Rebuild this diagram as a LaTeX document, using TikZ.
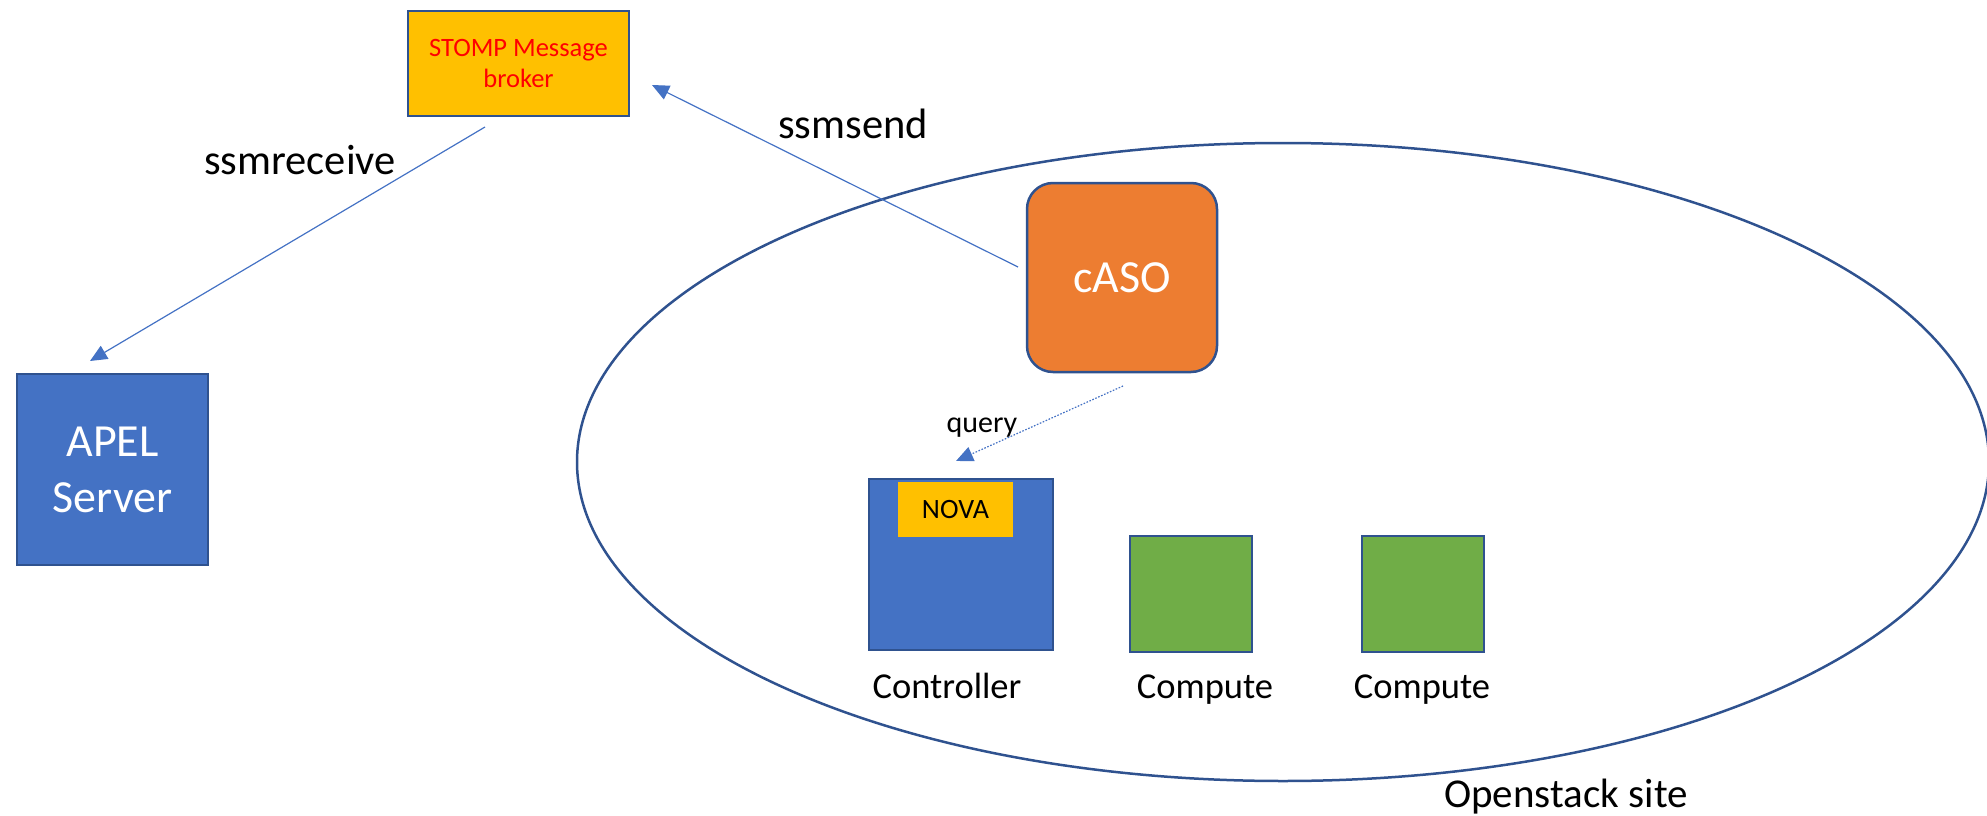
\documentclass[tikz,border=0pt]{standalone}
\usepackage{fontspec}
\setmainfont{Carlito}
\usetikzlibrary{arrows.meta}
\definecolor{bord}{HTML}{2F528F}
\definecolor{blu}{HTML}{4472C4}
\definecolor{orng}{HTML}{ED7D31}
\definecolor{gold}{HTML}{FFC000}
\definecolor{grn}{HTML}{70AD47}
\tikzset{
  box/.style={draw=bord, line width=2.5pt, inner sep=0pt, align=center},
  conn/.style={draw=blu, line width=1.2pt, -{Triangle[length=17pt,width=15pt]}},
  lbl/.style={inner sep=0pt, anchor=base},
}
\begin{document}
\begin{tikzpicture}[x=1pt,y=-1pt]
\useasboundingbox (0,0) rectangle (1987,816);
% site ellipse
\draw[bord, line width=2.5pt] (1283,462) ellipse [x radius=706, y radius=319];
% boxes
\node[box, fill=gold, minimum width=221pt, minimum height=105pt, text=red,
      font=\fontsize{26.5}{31}\selectfont] (stomp) at (518.5,63.5) {STOMP Message\\broker};
\node[box, fill=blu, minimum width=191pt, minimum height=191pt, text=white,
      font=\fontsize{46}{56}\selectfont] (apel) at (112.5,469.5) {APEL\\Server};
\node[box, fill=orng, minimum width=190pt, minimum height=189pt, rounded corners=26pt,
      text=white, font=\fontsize{46}{56}\selectfont] (caso) at (1122,277.5) {cASO};
\node[box, fill=blu, minimum width=184pt, minimum height=171pt] (ctrl) at (961,564.5) {};
\node[inner sep=0pt, fill=gold, minimum width=115pt, minimum height=55pt,
      font=\fontsize{28}{34}\selectfont] (nova) at (955.5,509.5) {NOVA};
\node[box, fill=grn, minimum width=122pt, minimum height=116pt] (comp1) at (1191,594) {};
\node[box, fill=grn, minimum width=122pt, minimum height=116pt] (comp2) at (1423,594) {};
% labels
\node[lbl, font=\fontsize{36.5}{43}\selectfont] (ctrllbl) at (947,698) {Controller};
\node[lbl, font=\fontsize{36.5}{43}\selectfont] (comp1lbl) at (1205,698) {Compute};
\node[lbl, font=\fontsize{36.5}{43}\selectfont] (comp2lbl) at (1422,698) {Compute};
\node[lbl, font=\fontsize{41}{50}\selectfont] (site) at (1566,807) {Openstack site};
\node[lbl, font=\fontsize{42.5}{50}\selectfont] (recvlbl) at (300,174) {ssmreceive};
\node[lbl, font=\fontsize{42.5}{50}\selectfont] (sendlbl) at (853,138) {ssmsend};
\node[lbl, font=\fontsize{30}{36}\selectfont] (querylbl) at (982,432) {query};
% connector ends
\coordinate (recvS) at (485,127);
\coordinate (recvE) at (90,361);
\coordinate (sendS) at (1018,267);
\coordinate (sendE) at (652,85);
\coordinate (queryS) at (1123,386);
\coordinate (queryE) at (956,461);
% connectors
\draw[conn] (recvS) -- (recvE);
\draw[conn] (sendS) -- (sendE);
\draw[conn, dash pattern=on 1.6pt off 1.6pt] (queryS) -- (queryE);
\end{tikzpicture}
\end{document}
